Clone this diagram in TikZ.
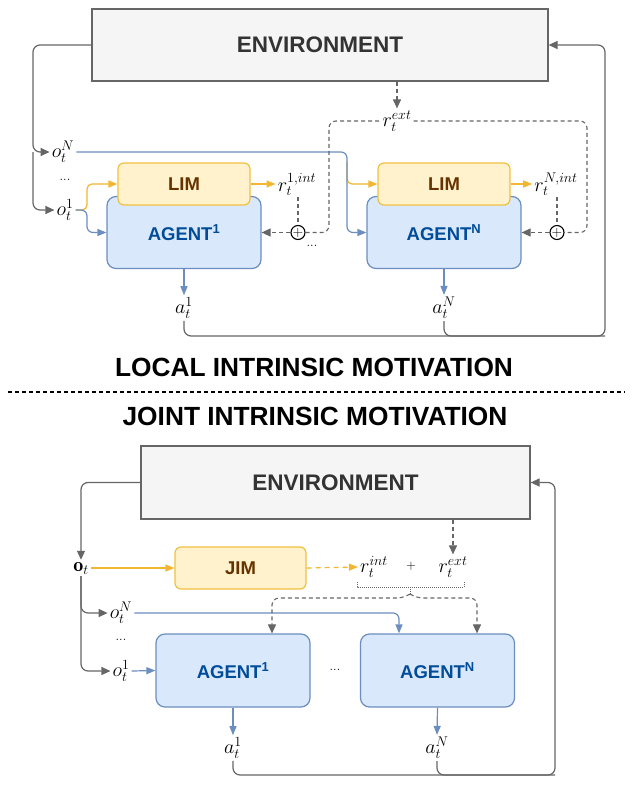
\RequirePackage{fix-cm}
\documentclass[tikz,border=0pt]{standalone}
\usepackage{fontspec}
\newfontfamily\boxfont{Liberation Sans}
\usetikzlibrary{arrows.meta}

\definecolor{envfill}{HTML}{F5F5F5}
\definecolor{envline}{HTML}{666666}
\definecolor{envtext}{HTML}{333333}
\definecolor{limfill}{HTML}{FFF2CC}
\definecolor{limline}{HTML}{F0C040}
\definecolor{limarrow}{HTML}{F2B630}
\definecolor{limtext}{HTML}{663300}
\definecolor{agfill}{HTML}{DAE8FC}
\definecolor{agline}{HTML}{6C8EBF}
\definecolor{agtext}{HTML}{004C99}

\tikzset{
  envbox/.style={draw=envline, fill=envfill, line width=1.2pt, text=envtext,
    font=\boxfont\bfseries\fontsize{22.5}{26}\selectfont, inner sep=0pt},
  limbox/.style={draw=limline, fill=limfill, rounded corners=6pt, line width=1.2pt,
    text=limtext, font=\boxfont\bfseries\fontsize{18.5}{22}\selectfont,
    minimum width=132pt, minimum height=42pt},
  agentbox/.style={draw=agline, fill=agfill, rounded corners=9pt, line width=1.2pt,
    text=agtext, font=\boxfont\bfseries\fontsize{18.5}{22}\selectfont,
    minimum width=154pt, minimum height=72pt},
  mlabel/.style={font=\fontsize{20}{23}\selectfont, inner sep=2pt},
  dotlabel/.style={font=\fontsize{13}{14}\selectfont, inner sep=1pt},
  headline/.style={font=\boxfont\bfseries\fontsize{26.3}{31}\selectfont},
  sumnode/.style={circle, draw=black, line width=1.1pt, minimum size=14pt,
    inner sep=0pt, font=\fontsize{14}{14}\selectfont},
  graylink/.style={draw=envline, line width=1.2pt, rounded corners=7pt},
  garrow/.style={graylink, -{Triangle[length=9pt,width=8pt]}},
  blink/.style={draw=agline, line width=1.2pt, rounded corners=6pt,
    -{Triangle[length=9pt,width=7pt]}},
  ylink/.style={draw=limarrow, line width=1.2pt, rounded corners=5pt,
    -{Triangle[length=9pt,width=7pt]}},
  rlink/.style={draw=envline, line width=1.1pt, dash pattern=on 4pt off 3pt,
    rounded corners=7pt},
  rarrow/.style={rlink, -{Triangle[length=9pt,width=8pt]}},
  bracketline/.style={draw=envline, line width=0.9pt, dash pattern=on 1pt off 1pt},
  sepline/.style={draw=black, line width=1.1pt, dash pattern=on 4pt off 3pt}
}

\begin{document}
\begin{tikzpicture}[x=1pt,y=-1pt]
  \useasboundingbox (0,0) rectangle (634,785);
  % Local intrinsic motivation
  \node[envbox, minimum width=456pt, minimum height=72pt] (env1) at (320,45) {ENVIRONMENT};
  \node[agentbox] (ag1) at (184,232.5) {AGENT\textsuperscript{1}};
  \node[agentbox] (agN) at (444,232.5) {AGENT\textsuperscript{N}};
  \node[limbox] (lim1) at (184,184) {LIM};
  \node[limbox] (limN) at (444,184) {LIM};
  \node[mlabel] (oN1) at (63,152) {$o_t^N$};
  \node[dotlabel] (d1) at (65,180) {...};
  \node[mlabel] (o11) at (65,210) {$o_t^1$};
  \node[mlabel] (r1int) at (297,184) {$r_t^{1,int}$};
  \node[mlabel] (rNint) at (556,184) {$r_t^{N,int}$};
  \node[mlabel] (rext1) at (397,121) {$r_t^{ext}$};
  \node[sumnode] (sum1) at (298,232.5) {$+$};
  \node[sumnode] (sumN) at (557,232.5) {$+$};
  \node[dotlabel] (d2) at (312,246) {...};
  \node[mlabel] (a11) at (184,308) {$a_t^1$};
  \node[mlabel] (aN1) at (444,308) {$a_t^N$};
  \coordinate (lx1) at (33,0);
  \coordinate (b1) at (87,0);
  \coordinate (bN) at (347,0);
  \coordinate (rx1) at (329,0);
  \coordinate (rx2) at (587,0);
  \coordinate (bot1) at (605,336);
  % observations
  \draw[garrow] (env1.west) -| (lx1 |- oN1.west) -- (oN1.west);
  \draw[garrow] (lx1 |- oN1.west) |- (o11.west);
  \draw[ylink] ([yshift=-10pt]oN1.east -| bN) |- (limN.west);
  \draw[blink] (oN1.east) -| (bN |- agN.west) -- (agN.west);
  \draw[ylink] (o11.east) -| (b1 |- lim1.west) -- (lim1.west);
  \draw[blink] (o11.east) -| (b1 |- ag1.west) -- (ag1.west);
  \draw[ylink] (lim1.east) -- (r1int.west);
  \draw[ylink] (limN.east) -- (rNint.west);
  % rewards
  \draw[rarrow] (env1.south -| rext1.north) -- (rext1.north);
  \draw[rlink] (sum1 |- r1int.south) -- (sum1.north);
  \draw[rlink] (sumN |- rNint.south) -- (sumN.north);
  \draw[rarrow] (sum1.west) -- (ag1.east);
  \draw[rarrow] (sumN.west) -- (agN.east);
  \draw[rlink] (sum1.east) -| (rx1 |- rext1.west) -- (rext1.west);
  \draw[rlink] (rext1.east) -| (rx2 |- sumN.east) -- (sumN.east);
  % actions
  \draw[blink] (ag1.south) -- (a11.north);
  \draw[blink] (agN.south) -- (aN1.north);
  \draw[graylink] (aN1.south) |- (bot1);
  \draw[garrow] (a11.south) |- (bot1) |- (env1.east);

  % Titles
  \node[headline] (hlocal) at (314,367) {LOCAL INTRINSIC MOTIVATION};
  \draw[sepline] (8,392) -- (625,392);
  \node[headline] (hjoint) at (315,416) {JOINT INTRINSIC MOTIVATION};

  % Joint intrinsic motivation
  \node[envbox, minimum width=389pt, minimum height=73pt] (env2) at (335.5,482.5) {ENVIRONMENT};
  \node[mlabel] (ot) at (81,568) {$\mathbf{o}_t$};
  \node[limbox, minimum width=131pt] (jim) at (240.5,568) {JIM};
  \node[mlabel] (rint2) at (374,567) {$r_t^{int}$};
  \node[dotlabel] (plus2) at (411,566) {$+$};
  \node[mlabel] (rext2) at (453,567) {$r_t^{ext}$};
  \node[agentbox, minimum height=73pt] (ag2) at (233,670.5) {AGENT\textsuperscript{1}};
  \node[agentbox, minimum height=73pt] (agN2) at (437.5,670.5) {AGENT\textsuperscript{N}};
  \node[mlabel] (oN2) at (121,613) {$o_t^N$};
  \node[dotlabel] (d3) at (121,640) {...};
  \node[mlabel] (o12) at (121,671) {$o_t^1$};
  \node[dotlabel] (d4) at (335,670) {...};
  \node[mlabel] (a12) at (233,748) {$a_t^1$};
  \node[mlabel] (aN2) at (437,748) {$a_t^N$};
  \coordinate (sum2) at (410,594);
  \coordinate (bot2) at (555,775);
  % observations
  \draw[garrow] (env2.west) -| (ot.north);
  \draw[garrow] (ot.south) |- (oN2.west);
  \draw[garrow] (ot.south) |- (o12.west);
  \draw[ylink] (ot.east) -- (jim.west);
  \draw[ylink, dash pattern=on 5pt off 4pt] (jim.east) -- (rint2.west);
  \draw[blink] (oN2.east) -| ([xshift=-38.5pt]agN2.north);
  \draw[blink] (o12.east) -- (ag2.west);
  % rewards
  \draw[rarrow] (env2.south -| rext2.north) -- (rext2.north);
  \draw[bracketline] (357,582) |- (464,587) -- (464,582);
  \draw[bracketline] (410,587) -- (sum2);
  \draw[rarrow] (sum2) -- (404,598) -| ([xshift=39pt]ag2.north);
  \draw[rarrow] (sum2) -- (416,598) -| ([xshift=39.5pt]agN2.north);
  % actions
  \draw[blink] (ag2.south) -- (a12.north);
  \draw[blink] (agN2.south) -- (aN2.north);
  \draw[graylink] (aN2.south) |- (bot2);
  \draw[garrow] (a12.south) |- (bot2) |- (env2.east);
\end{tikzpicture}
\end{document}
